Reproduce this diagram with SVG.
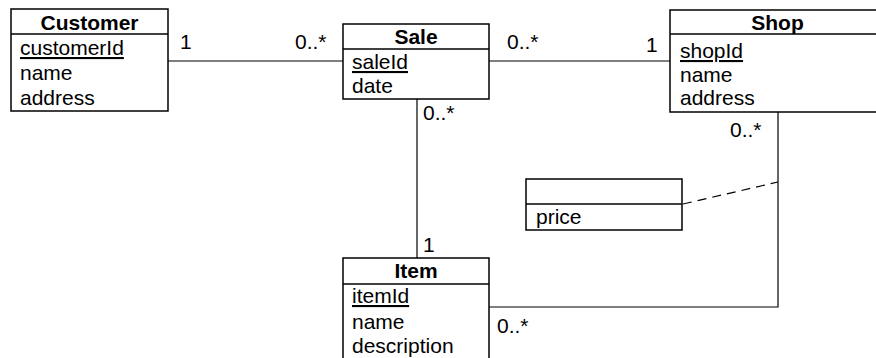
<svg xmlns="http://www.w3.org/2000/svg" width="876" height="358" viewBox="0 0 876 358">
  <style>
    .box { fill: #ffffff; stroke: #000000; stroke-width: 1.5; }
    .sep { stroke: #000000; stroke-width: 1.5; }
    .wire { fill: none; stroke: #000000; stroke-width: 1.2; }
    .dash { fill: none; stroke: #000000; stroke-width: 1.2; stroke-dasharray: 9 6; }
    text { font-family: "Liberation Sans", Arial, Helvetica, sans-serif; font-size: 21px; fill: #000000; }
    .title { font-weight: bold; text-anchor: middle; }
    .key { text-decoration: underline; }
  </style>

  <!-- associations -->
  <g id="connectors">
    <line class="wire" x1="168" y1="61" x2="343" y2="61"/>
    <line class="wire" x1="489" y1="61" x2="670" y2="61"/>
    <line class="wire" x1="417" y1="99" x2="417" y2="258"/>
    <polyline class="wire" points="778,112 778,307 489,307"/>
    <line class="dash" x1="683" y1="204" x2="778" y2="182"/>
    <text x="180" y="49">1</text>
    <text x="295" y="49">0..*</text>
    <text x="507" y="49">0..*</text>
    <text x="646" y="52">1</text>
    <text x="423" y="120">0..*</text>
    <text x="423" y="252">1</text>
    <text x="730" y="137">0..*</text>
    <text x="497" y="333">0..*</text>
  </g>

  <g id="customer">
    <rect class="box" x="11" y="9" width="157" height="102"/>
    <line class="sep" x1="11" y1="34" x2="168" y2="34"/>
    <text class="title" x="89.5" y="30">Customer</text>
    <text class="key" x="20" y="55">customerId</text>
    <text x="20" y="80">name</text>
    <text x="20" y="105">address</text>
  </g>

  <g id="sale">
    <rect class="box" x="343" y="24" width="146" height="75"/>
    <line class="sep" x1="343" y1="49" x2="489" y2="49"/>
    <text class="title" x="416" y="44">Sale</text>
    <text class="key" x="352" y="69">saleId</text>
    <text x="352" y="93">date</text>
  </g>

  <g id="shop">
    <rect class="box" x="670" y="10" width="215" height="102"/>
    <line class="sep" x1="670" y1="34" x2="885" y2="34"/>
    <text class="title" x="777.5" y="30">Shop</text>
    <text class="key" x="680" y="58">shopId</text>
    <text x="680" y="82">name</text>
    <text x="680" y="105">address</text>
  </g>

  <g id="price">
    <rect class="box" x="526" y="179" width="156" height="51"/>
    <line class="sep" x1="526" y1="204" x2="682" y2="204"/>
    <text x="536" y="224">price</text>
  </g>

  <g id="item">
    <rect class="box" x="343" y="258" width="146" height="120"/>
    <line class="sep" x1="343" y1="284" x2="489" y2="284"/>
    <text class="title" x="416" y="278">Item</text>
    <text class="key" x="352" y="303">itemId</text>
    <text x="352" y="329">name</text>
    <text x="352" y="353">description</text>
  </g>
</svg>
